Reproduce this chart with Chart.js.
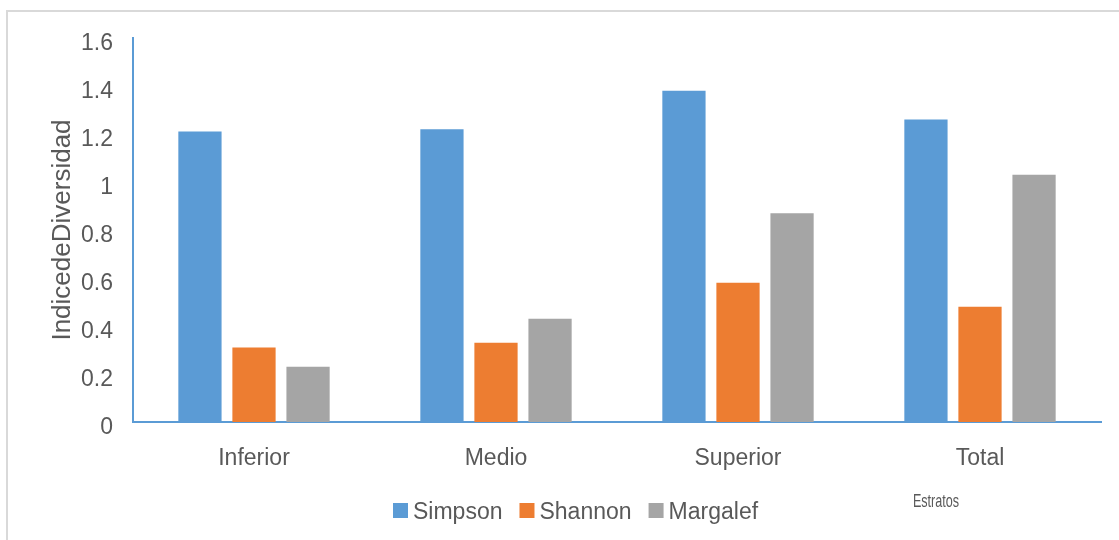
<!DOCTYPE html>
<html>
<head>
<meta charset="utf-8">
<script src="https://cdn.jsdelivr.net/npm/chart.js@4/dist/chart.umd.min.js"></script>
<style>
  html, body { margin: 0; padding: 0; background: #fff; }
  #wrap { width: 1119px; height: 540px; position: relative; }
</style>
</head>
<body>
<div id="wrap"><canvas id="c" width="1119" height="540"></canvas></div>
<script>
const categories = ['Inferior', 'Medio', 'Superior', 'Total'];
const seriesNames = ['Simpson', 'Shannon', 'Margalef'];
const simpson = [1.21, 1.22, 1.38, 1.26];
const shannon = [0.31, 0.33, 0.58, 0.48];
const margalef = [0.23, 0.43, 0.87, 1.03];
const yTicks = [0, 0.2, 0.4, 0.6, 0.8, 1, 1.2, 1.4, 1.6];
const yTitle = 'IndicedeDiversidad';
const xTitle = 'Estratos';
const colors = ['#5B9BD5', '#ED7D31', '#A5A5A5'];

const FONT = "'Liberation Sans', Arial, sans-serif";
const TEXT = '#595959';

const decorPlugin = {
  id: 'decor',
  beforeDraw(chart) {
    const ctx = chart.ctx;
    ctx.save();
    ctx.fillStyle = '#fff';
    ctx.fillRect(0, 0, chart.width, chart.height);
    ctx.strokeStyle = '#d9d9d9';
    ctx.lineWidth = 2;
    ctx.beginPath();
    ctx.moveTo(7, chart.height + 2);
    ctx.lineTo(7, 11);
    ctx.lineTo(chart.width + 2, 11);
    ctx.stroke();
    ctx.restore();
  },
  afterDraw(chart) {
    const ctx = chart.ctx;
    ctx.save();
    // legend
    ctx.font = '23px ' + FONT;
    ctx.textBaseline = 'middle';
    let x = 393;
    const yMid = 513;
    chart.data.datasets.forEach((ds) => {
      ctx.fillStyle = ds.backgroundColor;
      ctx.fillRect(x, 503, 15, 15);
      ctx.fillStyle = TEXT;
      ctx.textAlign = 'left';
      ctx.fillText(ds.label, x + 20, yMid);
      x += 20 + ctx.measureText(ds.label).width + 17;
    });
    // x-axis title (condensed)
    ctx.font = '18px ' + FONT;
    ctx.fillStyle = TEXT;
    ctx.textAlign = 'center';
    ctx.translate(936, 502);
    ctx.scale(0.7, 1);
    ctx.fillText(xTitle, 0, 0);
    ctx.restore();
  }
};

new Chart(document.getElementById('c'), {
  type: 'bar',
  data: {
    labels: categories,
    datasets: [
      { label: seriesNames[0], data: simpson, backgroundColor: colors[0] },
      { label: seriesNames[1], data: shannon, backgroundColor: colors[1] },
      { label: seriesNames[2], data: margalef, backgroundColor: colors[2] }
    ]
  },
  options: {
    responsive: false,
    animation: false,
    devicePixelRatio: 1,
    layout: { padding: { left: 0, right: 18, top: 38, bottom: 0 } },
    datasets: { bar: { categoryPercentage: 0.67, barPercentage: 0.8 } },
    plugins: { legend: { display: false }, tooltip: { enabled: false } },
    scales: {
      x: {
        grid: { display: false, drawTicks: false },
        border: { display: true, color: '#5B9BD5', width: 2 },
        ticks: { color: TEXT, font: { family: FONT, size: 23 }, padding: 23 },
        afterFit(scale) { scale.height = 118; }
      },
      y: {
        min: 0, max: 1.6,
        afterBuildTicks(scale) { scale.ticks = yTicks.map(v => ({ value: v })); },
        grid: { display: false, drawTicks: false },
        border: { display: true, color: '#5B9BD5', width: 2 },
        ticks: {
          color: TEXT, font: { family: FONT, size: 23 }, padding: 20, labelOffset: 6,
          callback: (v) => String(Math.round(v * 10) / 10)
        },
        title: {
          display: true, text: yTitle, color: TEXT,
          font: { family: FONT, size: 26 }, padding: { top: 47, bottom: 0 }
        },
        afterFit(scale) { scale.width = 133; }
      }
    }
  },
  plugins: [decorPlugin]
});
</script>
</body>
</html>
